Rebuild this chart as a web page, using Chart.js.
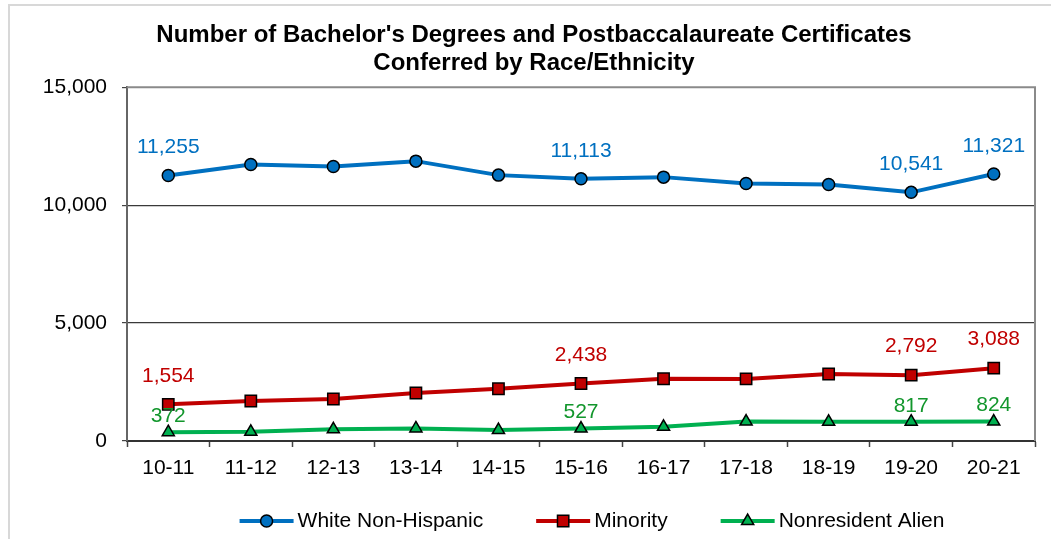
<!DOCTYPE html>
<html>
<head>
<meta charset="utf-8">
<script src="https://cdn.jsdelivr.net/npm/chart.js@4/dist/chart.umd.min.js"></script>
<style>
    html, body { margin: 0; padding: 0; background: #fff; }
    #wrap { width: 1051px; height: 539px; }
</style>
</head>
<body>
<div id="wrap"><canvas id="degrees"></canvas></div>
<script>
const years = ['10-11', '11-12', '12-13', '13-14', '14-15', '15-16', '16-17', '17-18', '18-19', '19-20', '20-21'];
const whiteNonHispanic = [11255, 11725, 11640, 11864, 11271, 11113, 11186, 10918, 10877, 10541, 11321];
const minority = [1554, 1695, 1780, 2034, 2216, 2438, 2640, 2630, 2839, 2792, 3088];
const nonresidentAlien = [372, 390, 495, 530, 463, 527, 600, 822, 812, 817, 824];
const yTicks = [0, 5000, 10000, 15000];
// only these years get a value label
const labelledYears = ['10-11', '15-16', '19-20', '20-21'];

const FONT = 'Arial, "Liberation Sans", sans-serif';

// value labels above selected points
const pointLabels = {
    id: 'pointLabels',
    afterDatasetsDraw(chart) {
        const ctx = chart.ctx;
        ctx.save();
        ctx.font = '21px ' + FONT;
        ctx.textAlign = 'center';
        ctx.textBaseline = 'middle';
        chart.data.datasets.forEach((ds, i) => {
            const meta = chart.getDatasetMeta(i);
            meta.data.forEach((pt, j) => {
                if (!labelledYears.includes(chart.data.labels[j])) return;
                ctx.fillStyle = ds.labelColor;
                ctx.fillText(ds.data[j].toLocaleString('en-US'), pt.x, pt.y - ds.labelOffset);
            });
        });
        ctx.restore();
    }
};

// plot frame (top/right) plus the outer border of the chart
const frame = {
    id: 'frame',
    beforeDraw(chart) {
        const ctx = chart.ctx;
        ctx.save();
        ctx.strokeStyle = '#d8d8d8';
        ctx.lineWidth = 2;
        ctx.strokeRect(9, 5, chart.width + 20, chart.height + 20);
        ctx.restore();
    },
    beforeDatasetsDraw(chart) {
        const {ctx, chartArea: a} = chart;
        ctx.save();
        ctx.strokeStyle = '#8a8a8a';
        ctx.lineWidth = 2;
        ctx.beginPath();
        ctx.moveTo(a.left, a.top);
        ctx.lineTo(a.right, a.top);
        ctx.lineTo(a.right, a.bottom);
        ctx.stroke();
        ctx.restore();
    }
};

// legend with a line segment and marker for each series
const lineLegend = {
    id: 'lineLegend',
    afterDraw(chart) {
        const ctx = chart.ctx;
        const segLen = 54, gap = 4, itemGap = 53;
        const y = 521;
        ctx.save();
        ctx.font = '21px ' + FONT;
        ctx.textBaseline = 'middle';
        const items = chart.data.datasets.map(ds => ({ds, w: segLen + gap + ctx.measureText(ds.label).width}));
        const total = items.reduce((s, it) => s + it.w, 0) + itemGap * (items.length - 1);
        let x = (chart.chartArea.left + chart.chartArea.right) / 2 + 11 - total / 2;
        items.forEach(({ds, w}) => {
            ctx.strokeStyle = ds.borderColor;
            ctx.lineWidth = 4;
            ctx.beginPath();
            ctx.moveTo(x, y);
            ctx.lineTo(x + segLen, y);
            ctx.stroke();
            ctx.fillStyle = ds.pointBackgroundColor;
            ctx.strokeStyle = '#000';
            ctx.lineWidth = 1.5;
            Chart.helpers.drawPoint(ctx, {pointStyle: ds.pointStyle, radius: ds.pointRadius, borderWidth: 1.5}, x + segLen / 2, y);
            ctx.fillStyle = '#000';
            ctx.textAlign = 'left';
            ctx.fillText(ds.label, x + segLen + gap, y);
            x += w + itemGap;
        });
        ctx.restore();
    }
};

new Chart(document.getElementById('degrees'), {
    type: 'line',
    data: {
        labels: years,
        datasets: [
            {
                label: 'White Non-Hispanic',
                data: whiteNonHispanic,
                borderColor: '#0070C0',
                borderWidth: 4,
                pointStyle: 'circle',
                pointRadius: 6,
                pointBackgroundColor: '#0070C0',
                pointBorderColor: '#000',
                pointBorderWidth: 1.5,
                labelColor: '#0070C0',
                labelOffset: 28,
            },
            {
                label: 'Minority',
                data: minority,
                borderColor: '#C00000',
                borderWidth: 4,
                pointStyle: 'rect',
                pointRadius: 8,
                pointBackgroundColor: '#C00000',
                pointBorderColor: '#000',
                pointBorderWidth: 1.5,
                labelColor: '#C00000',
                labelOffset: 28.5,
            },
            {
                label: 'Nonresident Alien',
                data: nonresidentAlien,
                borderColor: '#00B050',
                borderWidth: 4,
                pointStyle: 'triangle',
                pointRadius: 7,
                pointBackgroundColor: '#00B050',
                pointBorderColor: '#000',
                pointBorderWidth: 1.5,
                labelColor: '#12962C',
                labelOffset: 16,
            },
        ]
    },
    options: {
        responsive: true,
        maintainAspectRatio: false,
        animation: false,
        layout: {
            padding: {left: 33, right: 16, top: 0, bottom: 0}
        },
        plugins: {
            legend: {display: false},
            tooltip: {enabled: false},
            title: {
                display: true,
                text: ["Number of Bachelor's Degrees and Postbaccalaureate Certificates", 'Conferred by Race/Ethnicity'],
                color: '#000',
                font: {family: FONT, size: 24, weight: 'bold', lineHeight: 1.17},
                padding: {top: 21, bottom: 10},
            },
        },
        scales: {
            x: {
                offset: true,
                grid: {
                    offset: true,
                    drawOnChartArea: false,
                    tickLength: 6,
                    tickColor: '#444',
                    tickWidth: 1.5,
                },
                border: {color: '#333', width: 2},
                ticks: {
                    color: '#000',
                    font: {family: FONT, size: 21},
                    padding: 9,
                    maxRotation: 0,
                },
                afterFit(scale) { scale.height = 98; },
            },
            y: {
                min: 0,
                max: 15000,
                afterBuildTicks(scale) { scale.ticks = yTicks.map(v => ({value: v})); },
                grid: {
                    color: ctx => ctx.tick.value === 15000 ? 'rgba(0,0,0,0)' : '#3a3a3a',
                    lineWidth: 1.2,
                    tickLength: 5,
                    tickColor: '#444',
                },
                border: {color: '#666', width: 2},
                ticks: {
                    color: '#000',
                    font: {family: FONT, size: 21},
                    padding: 15,
                    callback: v => v.toLocaleString('en-US'),
                },
                afterFit(scale) { scale.width = 94; },
            }
        }
    },
    plugins: [frame, pointLabels, lineLegend]
});
</script>
</body>
</html>
